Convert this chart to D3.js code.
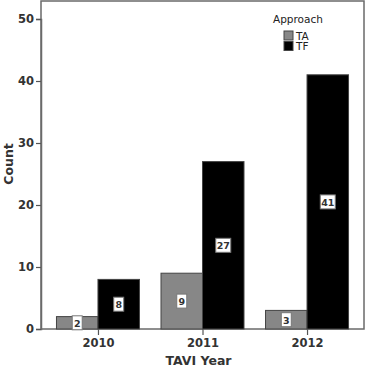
<!DOCTYPE html>
<html><head><meta charset="utf-8">
<script src="https://cdn.jsdelivr.net/npm/d3@7"></script>
<style>body{margin:0;background:#fff}svg{display:block}text{font-family:"DejaVu Sans",Verdana,sans-serif}</style>
</head><body>
<script>
const categories = ["2010","2011","2012"];
const seriesNames = ["TA","TF"];
const taValues = [2,9,3];
const tfValues = [8,27,41];
const yTicks = [0,10,20,30,40,50];
const colors = {TA:"#878787", TF:"#000000"};

const W=367,H=368;
const L=41,R=364,T=1,B=329;
const svg=d3.select("body").append("svg").attr("width",W).attr("height",H);
const x=d3.scalePoint().domain(categories).range([L,R]).padding(0.545);
const y=d3.scaleLinear().domain([0,50]).range([B,19]);
const bw=41.5;
const sub=d3.scaleBand().domain(seriesNames).range([-bw,bw]);

// frame
svg.append("rect").attr("x",L).attr("y",T).attr("width",R-L).attr("height",B-T)
  .attr("fill","none").attr("stroke","#6a6a6a").attr("stroke-width",1.5);

const data=[];
categories.forEach((c,i)=>{data.push({c,s:"TA",v:taValues[i]});data.push({c,s:"TF",v:tfValues[i]});});

svg.selectAll("rect.bar").data(data).enter().append("rect").attr("class","bar")
  .attr("x",d=>x(d.c)+sub(d.s)).attr("width",sub.bandwidth())
  .attr("y",d=>y(d.v)).attr("height",d=>y(0)-y(d.v))
  .attr("fill",d=>colors[d.s]).attr("stroke","#444").attr("stroke-width",1);

// labels
const lg=svg.selectAll("g.lab").data(data).enter().append("g")
  .attr("transform",d=>`translate(${x(d.c)+sub(d.s)+sub.bandwidth()/2},${(y(d.v)+y(0))/2})`);
lg.each(function(d){
  const g=d3.select(this);
  const w=String(d.v).length>1?15:10;
  g.append("rect").attr("x",-w/2).attr("y",-7).attr("width",w).attr("height",14)
   .attr("fill","#fff").attr("stroke","#777").attr("stroke-width",1);
  g.append("text").attr("text-anchor","middle").attr("y",4).attr("font-size",9.5)
   .attr("font-weight","bold").attr("fill","#333").text(d.v);
});

// y axis
const ya=svg.append("g").attr("transform",`translate(${L},0)`)
  .call(d3.axisLeft(y).tickValues(yTicks).tickSize(5).tickPadding(2));
ya.select(".domain").attr("stroke","#6a6a6a").attr("stroke-width",1.5);
ya.selectAll(".tick line").attr("stroke","#555").attr("stroke-width",1.2);
ya.selectAll(".tick text").attr("font-size",11.5).attr("font-weight","bold").attr("fill","#333")
  .attr("font-family","DejaVu Sans");

// x axis
const xa=svg.append("g").attr("transform",`translate(0,${B})`)
  .call(d3.axisBottom(x).tickSize(6).tickPadding(4));
xa.select(".domain").remove();
xa.selectAll(".tick line").attr("stroke","#555").attr("stroke-width",1.2);
xa.selectAll(".tick text").attr("font-size",11.5).attr("font-weight","bold").attr("fill","#333")
  .attr("font-family","DejaVu Sans");

// titles
svg.append("text").attr("x",(L+R)/2-4).attr("y",365).attr("text-anchor","middle")
  .attr("font-size",12.5).attr("font-weight","bold").attr("fill","#333").text("TAVI Year");
svg.append("text").attr("transform",`translate(13,164) rotate(-90)`).attr("text-anchor","middle")
  .attr("font-size",12.5).attr("font-weight","bold").attr("fill","#333").text("Count");

// legend
svg.append("text").attr("x",273).attr("y",23).attr("font-size",10.5).attr("fill","#222").text("Approach");
seriesNames.forEach((s,i)=>{
  svg.append("rect").attr("x",284).attr("y",31+i*10.5).attr("width",9).attr("height",9)
    .attr("fill",colors[s]).attr("stroke","#444").attr("stroke-width",1);
  svg.append("text").attr("x",296).attr("y",39.5+i*10.5).attr("font-size",10.5).attr("fill","#222").text(s);
});
</script>
</body></html>
